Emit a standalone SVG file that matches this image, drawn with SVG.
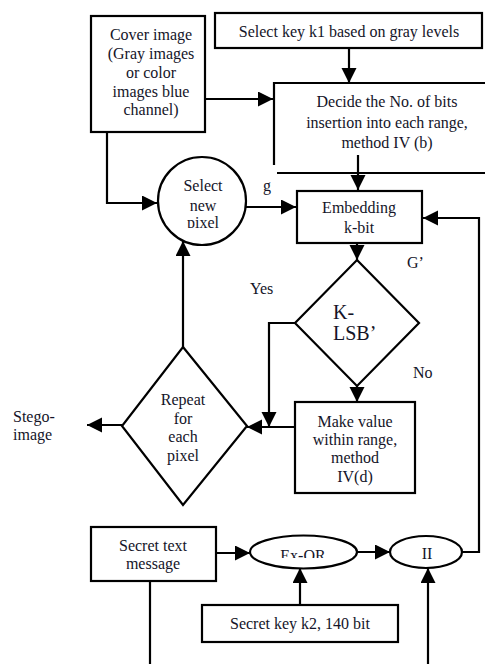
<svg xmlns="http://www.w3.org/2000/svg" width="485" height="664" viewBox="0 0 485 664">
<style>
.s{fill:#fff;stroke:#000;stroke-width:2.2}
.l{fill:none;stroke:#000;stroke-width:2.2}
.t{font-family:"Liberation Serif","Times New Roman",serif;font-size:16px;fill:#141428;text-anchor:middle}
.a{font-family:"Liberation Serif","Times New Roman",serif;font-size:16px;fill:#141428}
</style>
<defs>
<marker id="ar" markerUnits="userSpaceOnUse" markerWidth="16" markerHeight="16" refX="15" refY="7.5" orient="auto">
<path d="M0,0 L15,7.5 L0,15 z" fill="#000"/>
</marker>
<clipPath id="cp1"><rect x="150" y="150" width="110" height="78"/></clipPath>
<clipPath id="cp2"><rect x="250" y="530" width="110" height="28"/></clipPath>
</defs>
<rect width="485" height="664" fill="#fff"/>
<g id="connectors">
<path class="l" d="M107,132 V203 H157" marker-end="url(#ar)"/>
<path class="l" d="M205,99 H273" marker-end="url(#ar)"/>
<path class="l" d="M349,48 V83" marker-end="url(#ar)"/>
<path class="l" d="M358,155 V190" marker-end="url(#ar)"/>
<path class="l" d="M246,207 H296" marker-end="url(#ar)"/>
<path class="l" d="M357,243 V260" marker-end="url(#ar)"/>
<path class="l" d="M357,386 V402" marker-end="url(#ar)"/>
<path class="l" d="M295,323 H269 V427" marker-end="url(#ar)"/>
<path class="l" d="M295,427 H247" marker-end="url(#ar)"/>
<path class="l" d="M183,347 V241" marker-end="url(#ar)"/>
<path class="l" d="M122,425 H87" marker-end="url(#ar)"/>
<path class="l" d="M216,553 H250" marker-end="url(#ar)"/>
<path class="l" d="M357,552 H390" marker-end="url(#ar)"/>
<path class="l" d="M462,552 H479 V218 H423" marker-end="url(#ar)"/>
<path class="l" d="M300,605 V568" marker-end="url(#ar)"/>
<path class="l" d="M428,664 V568" marker-end="url(#ar)"/>
<path class="l" d="M150,581 V664"/>
</g>
<g id="cover">
<rect class="s" x="91" y="16" width="114" height="116"/>
<text class="t" x="151" y="40">Cover image</text>
<text class="t" x="151" y="59">(Gray images</text>
<text class="t" x="151" y="78">or color</text>
<text class="t" x="151" y="97">images blue</text>
<text class="t" x="151" y="115">channel)</text>
</g>
<g id="selectkey">
<rect class="s" x="215" y="13" width="267" height="35"/>
<text class="t" x="349" y="37">Select key k1 based on gray levels</text>
</g>
<g id="decide">
<path class="l" d="M274,165 V83 H485"/>
<path class="l" d="M277,173 H485"/>
<text class="t" x="387" y="107">Decide the No. of bits</text>
<text class="t" x="387" y="128">insertion into each range,</text>
<text class="t" x="387" y="148">method IV (b)</text>
</g>
<g id="selectpixel">
<circle class="s" cx="202" cy="201" r="44"/>
<text class="t" x="203" y="191">Select</text>
<text class="t" x="203" y="211">new</text>
<text class="t" x="203" y="228" clip-path="url(#cp1)">pixel</text>
</g>
<g id="embedding">
<rect class="s" x="297" y="191" width="125" height="52"/>
<text class="t" x="359" y="213">Embedding</text>
<text class="t" x="359" y="233">k-bit</text>
</g>
<g id="klsb">
<path class="s" d="M357,260 L419,323 L357,386 L295,323 z"/>
<text class="a" style="font-size:20px" x="333" y="319">K-</text>
<text class="a" style="font-size:20px" x="333" y="340">LSB’</text>
</g>
<g id="labels">
<text class="a" x="267" y="191" text-anchor="middle">g</text>
<text class="a" x="407" y="268">G’</text>
<text class="a" x="250" y="294">Yes</text>
<text class="a" x="413" y="378">No</text>
</g>
<g id="makevalue">
<rect class="s" x="295" y="402" width="120" height="91"/>
<text class="t" x="355" y="427">Make value</text>
<text class="t" x="355" y="445">within range,</text>
<text class="t" x="355" y="463">method</text>
<text class="t" x="355" y="482">IV(d)</text>
</g>
<g id="repeat">
<path class="s" d="M183,347 L247,426 L183,505 L122,426 z"/>
<text class="t" x="183" y="405">Repeat</text>
<text class="t" x="183" y="424">for</text>
<text class="t" x="183" y="442">each</text>
<text class="t" x="183" y="461">pixel</text>
</g>
<g id="stego">
<text class="a" x="13" y="422">Stego-</text>
<text class="a" x="13" y="440">image</text>
</g>
<g id="secret">
<rect class="s" x="91" y="527" width="125" height="54"/>
<text class="t" x="153" y="551">Secret text</text>
<text class="t" x="153" y="569">message</text>
</g>
<g id="exor">
<ellipse class="s" cx="303.5" cy="552" rx="53.5" ry="16.5"/>
<text class="t" x="303" y="561" clip-path="url(#cp2)">Ex-OR</text>
</g>
<g id="pi">
<ellipse class="s" cx="426" cy="552" rx="36" ry="16"/>
<text class="t" x="427" y="559">II</text>
</g>
<g id="key2">
<rect class="s" x="202" y="605" width="196" height="37"/>
<text class="t" x="300" y="629">Secret key k2, 140 bit</text>
</g>
</svg>
